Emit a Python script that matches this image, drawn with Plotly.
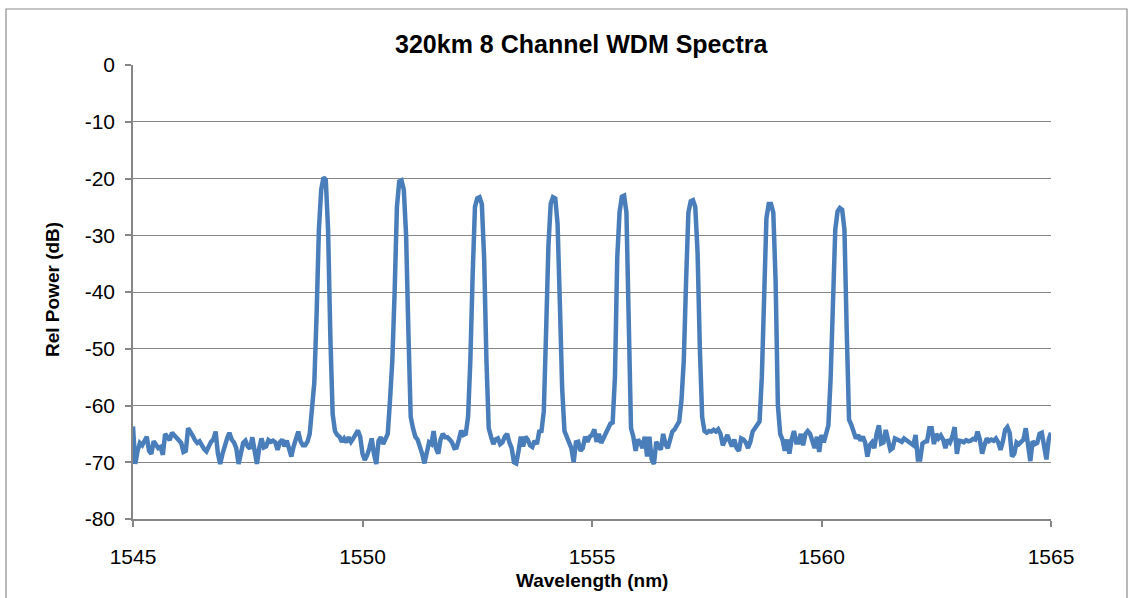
import numpy as np
import plotly.graph_objects as go

# Wavelength grid (nm): OSA sampling from 1545 to 1565 nm, 0.05 nm step
wl_start = 1545.0
wl_stop = 1565.0
n_points = 401
wavelength = np.linspace(wl_start, wl_stop, n_points)

# Relative power (dB), one value per sample
power_db = [
    -63.7, -70.3, -68, -66.6, -67, -66, -65.5, -68, -68.5, -66.3,
    -67, -67.5, -67.3, -68.7, -65, -65.5, -66.1, -64.8, -65.2, -65.8,
    -66.2, -66.6, -68.2, -68, -64, -64.5, -65.3, -66.1, -66.6, -66.3,
    -67.2, -67.7, -68.1, -67, -66.4, -66, -64.6, -68.5, -70.3, -68.5,
    -67, -65.8, -64.8, -66, -66.5, -67.5, -70.3, -68.2, -66.6, -66.2,
    -67.2, -67.6, -65.6, -68, -70.3, -67.5, -65.8, -67.4, -67.2, -66.1,
    -66.4, -66.2, -66.5, -67.8, -66.5, -66, -67.2, -66.2, -67.5, -69,
    -67.2, -65.8, -64.6, -66.3, -67, -67, -66.4, -65, -60.5, -56,
    -44, -29, -22, -19.8, -20.2, -29, -48, -61.5, -64.5, -65.2,
    -65.5, -66.4, -65.8, -66.5, -65.6, -66.4, -65.8, -65, -64.4, -65.5,
    -68.5, -69.6, -68.8, -67.5, -65.8, -68.5, -70.3, -66.2, -65.6, -66.8,
    -66, -65, -59, -52, -40, -25, -20.5, -20.3, -22, -30,
    -47, -62, -64, -65.5, -66, -67, -68.5, -70.2, -68, -66.5,
    -66.8, -64.5, -67.5, -68.5, -66, -65, -65.6, -65.6, -66, -66.5,
    -67.5, -67.4, -66, -64.4, -65.2, -65, -62, -52, -37, -25,
    -23.5, -23.3, -24.5, -34, -52, -64, -65.5, -66.8, -66, -65.8,
    -66.8, -66.5, -65.5, -65, -66.5, -67.5, -70, -70.2, -68, -65.5,
    -67.2, -65.5, -66, -67, -67.3, -66.2, -66.8, -64.6, -64.5, -61,
    -47, -32, -24.5, -23.3, -23.5, -28, -42, -57, -64.5, -65.5,
    -66, -67.5, -70, -66.5, -66.4, -68, -67.5, -65.5, -66.4, -65.5,
    -65.2, -64.2, -66.4, -65, -66.6, -65.8, -65, -64, -63.2, -63,
    -55, -34, -26, -23.2, -23, -26, -46, -64, -65.5, -68,
    -66, -66.5, -67.5, -65.5, -69, -65.5, -69.5, -70.3, -66.4, -67,
    -67.8, -65, -66.8, -67.5, -66, -64.6, -64.2, -63.5, -62.8, -59,
    -52, -38, -26, -24, -23.8, -25, -33, -50, -62, -64.5,
    -64.8, -64.5, -64.6, -64.3, -64.6, -64.2, -65, -67, -65.8, -65.2,
    -66.3, -67.2, -66, -67.5, -68, -65.8, -66, -66.5, -67.5, -66.4,
    -64.6, -64, -63.5, -62.8, -55, -38, -27, -24.5, -24.5, -26,
    -38, -60, -65, -66, -68, -66, -68.5, -66, -64.5, -66.5,
    -66.5, -65, -67, -65, -64.5, -65, -66.5, -67.5, -65.5, -68.2,
    -65.2, -66.5, -65, -63.5, -55, -38, -29, -25.8, -25.2, -25.5,
    -29, -47, -62.5, -63.4, -65, -65.8, -65.2, -66.2, -65.5, -66.5,
    -69, -67, -66.5, -67.5, -65, -63.5, -66.7, -66.5, -64.3, -66.5,
    -67.8, -67.5, -65.8, -66, -66.2, -66.4, -65.8, -66.1, -66.2, -66.7,
    -67, -65.2, -69.5, -69.5, -66.7, -66.4, -66.3, -64, -64, -66.8,
    -65, -65.8, -65.3, -66, -67.5, -66, -66.5, -65.5, -63.8, -68.5,
    -66.2, -66.3, -66.5, -66.1, -66.3, -66.2, -65.9, -66, -64.6, -66,
    -68.5, -67, -65.8, -66.3, -66, -66.2, -65.8, -66.5, -67.8, -66.4,
    -64.3, -63.8, -64.8, -69, -68.5, -66.5, -66.8, -66.4, -66, -64,
    -67.5, -69.8, -66.3, -66.8, -66.6, -65, -64.8, -67.5, -69.5, -66,
    -64.8,
]

x_ticks = [1545, 1550, 1555, 1560, 1565]
y_ticks = [0, -10, -20, -30, -40, -50, -60, -70, -80]

title_text = "320km 8 Channel WDM Spectra"
x_title = "Wavelength (nm)"
y_title = "Rel Power (dB)"

FONT = "Liberation Sans, Arial, sans-serif"
AXIS_GRAY = "#868686"
LINE_BLUE = "rgb(74,126,187)"

fig = go.Figure()
fig.add_trace(go.Scatter(
    x=wavelength, y=power_db, mode="lines",
    line=dict(color=LINE_BLUE, width=4.5),
    hoverinfo="x+y", showlegend=False,
))

fig.update_layout(
    width=1133, height=598,
    margin=dict(l=133, r=82, t=65, b=79),
    paper_bgcolor="white", plot_bgcolor="white",
    font=dict(family=FONT, color="black"),
    title=dict(text=title_text, x=0.513, xref="container", xanchor="center",
               y=1 - 44 / 598, yref="container", yanchor="middle",
               font=dict(family=FONT, size=25, color="black", weight="bold")),
    showlegend=False,
)

fig.update_xaxes(
    range=[1545, 1565], tickvals=x_ticks, ticktext=[str(v) for v in x_ticks],
    showgrid=False, zeroline=False,
    showline=True, linecolor=AXIS_GRAY, linewidth=1.5,
    ticks="outside", ticklen=6, tickcolor=AXIS_GRAY, tickwidth=1.5,
    tickfont=dict(family=FONT, size=21, color="black"),
    ticklabelstandoff=12,
)
fig.update_yaxes(
    range=[-80, 0], tickvals=y_ticks, ticktext=[str(v) for v in y_ticks],
    showgrid=True, gridcolor=AXIS_GRAY, gridwidth=1.3, zeroline=False,
    showline=True, linecolor=AXIS_GRAY, linewidth=1.5,
    ticks="outside", ticklen=6, tickcolor=AXIS_GRAY, tickwidth=1.5,
    tickfont=dict(family=FONT, size=21, color="black"),
    ticklabelstandoff=6,
)

fig.add_annotation(text=y_title, textangle=-90, xref="paper", yref="paper",
                   x=(52 - 133) / 918, y=(519 - 290) / 454,
                   xanchor="center", yanchor="middle", showarrow=False,
                   font=dict(family=FONT, size=19, color="black", weight="bold"))
fig.add_annotation(text=x_title, xref="paper", yref="paper",
                   x=(592 - 133) / 918, y=(519 - 580) / 454,
                   xanchor="center", yanchor="middle", showarrow=False,
                   font=dict(family=FONT, size=19, color="black", weight="bold"))

# Chart-area border
fig.add_shape(type="rect", xref="paper", yref="paper",
              x0=(6 - 133) / 918, x1=(1127 - 133) / 918,
              y0=(519 - 640) / 454, y1=(519 - 9) / 454,
              line=dict(color="#8c8c8c", width=1.2), fillcolor="rgba(0,0,0,0)",
              layer="below")

fig.write_html("out.html")
